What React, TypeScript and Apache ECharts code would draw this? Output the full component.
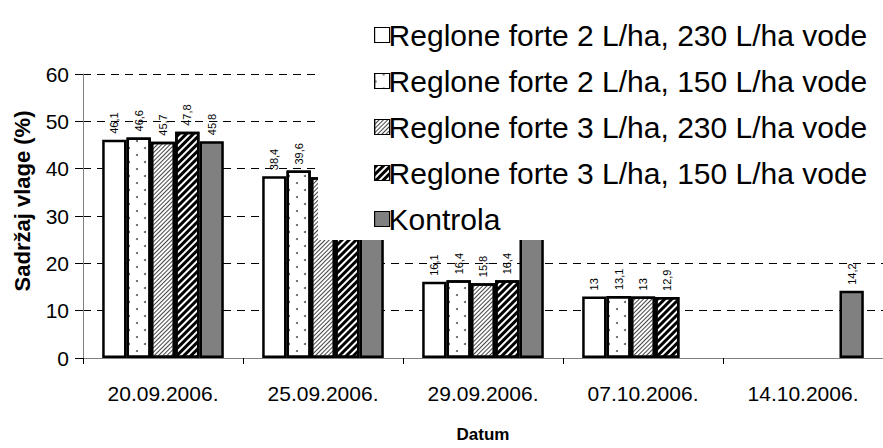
import React, { useEffect, useRef } from "react";
import * as echarts from "echarts";

const categories = ["20.09.2006.", "25.09.2006.", "29.09.2006.", "07.10.2006.", "14.10.2006."];
const seriesNames = [
  "Reglone forte 2 L/ha, 230 L/ha vode",
  "Reglone forte 2 L/ha, 150 L/ha vode",
  "Reglone forte 3 L/ha, 230 L/ha vode",
  "Reglone forte 3 L/ha, 150 L/ha vode",
  "Kontrola",
];
const r2l230 = [46.1, 38.4, 16.1, 13, null];
const r2l150 = [46.6, 39.6, 16.4, 13.1, null];
const r3l230 = [45.7, 38.2, 15.8, 13, null];
const r3l150 = [47.8, 38.0, 16.4, 12.9, null];
const kontrola = [45.8, 37.5, 31.0, null, 14.2];
const yTicks = { min: 0, max: 60, interval: 10 };

const FONT = "'Liberation Sans', Arial, sans-serif";

export default function App() {
  const ref = useRef<HTMLDivElement>(null);
  useEffect(() => {
    if (!ref.current) return;
    const chart = echarts.init(ref.current, null, { renderer: "svg" });
    const label = {
      show: true,
      position: "top",
      rotate: 90,
      align: "left",
      verticalAlign: "middle",
      distance: 6,
      fontSize: 11,
      fontFamily: FONT,
      color: "#000",
      formatter: (p: any) => String(p.value).replace(".", ","),
    };
    const border = { borderColor: "#000", borderWidth: 2.5 };
    const decals: any[] = [
      undefined,
      {
        symbol: "circle",
        symbolSize: 1,
        color: "#555",
        dashArrayX: [[2, 14], [0, 8, 2, 6]],
        dashArrayY: [2, 5],
      },
      {
        symbol: "rect",
        symbolSize: 1,
        color: "#444",
        dashArrayX: [1, 0],
        dashArrayY: [1, 2],
        rotation: -Math.PI / 4,
      },
      {
        symbol: "rect",
        symbolSize: 1,
        color: "#000",
        dashArrayX: [1, 0],
        dashArrayY: [2.2, 2],
        rotation: -Math.PI / 4,
      },
      undefined,
    ];
    const fills = ["#fff", "#fff", "#fff", "#fff", "#808080"];
    const datasets = [r2l230, r2l150, r3l230, r3l150, kontrola];
    chart.setOption({
      animation: false,
      textStyle: { fontFamily: FONT },
      grid: { left: 83, right: 0, top: 74, bottom: 87 },
      legend: {
        orient: "vertical",
        left: 369,
        top: 15,
        z: 20,
        itemWidth: 15,
        itemHeight: 15,
        itemGap: 16,
        icon: "rect",
        itemStyle: { borderWidth: 1.2 },
        textStyle: { fontSize: 30, color: "#000", fontFamily: FONT, padding: [0, 0, 0, -6] },
        data: seriesNames,
      },
      graphic: [
        {
          type: "rect",
          z: 10,
          shape: { x: 318, y: 0, width: 565, height: 240 },
          style: { fill: "#fff" },
        },
      ],
      xAxis: {
        type: "category",
        data: categories,
        axisLine: { lineStyle: { color: "#808080", width: 1 } },
        axisTick: { show: true, length: 6, lineStyle: { color: "#000" } },
        axisLabel: { fontSize: 21, color: "#000", margin: 25 },
        name: "Datum",
        nameLocation: "middle",
        nameGap: 68,
        nameTextStyle: { fontSize: 17, fontWeight: "bold", color: "#000" },
      },
      yAxis: {
        type: "value",
        min: yTicks.min,
        max: yTicks.max,
        interval: yTicks.interval,
        axisLine: { show: true, lineStyle: { color: "#808080", width: 1 } },
        axisTick: { show: true, length: 8, lineStyle: { color: "#000" } },
        axisLabel: { fontSize: 21, color: "#000", margin: 14 },
        splitLine: { lineStyle: { color: "#000", type: [8, 6], width: 1 } },
        name: "Sadržaj vlage (%)",
        nameLocation: "middle",
        nameGap: 50,
        nameTextStyle: { fontSize: 22, fontWeight: "bold", color: "#000", padding: [0, 0, 0, 30] },
      },
      series: datasets.map((d, i) => ({
        name: seriesNames[i],
        type: "bar",
        data: d,
        barGap: "0%",
        barCategoryGap: "24%",
        itemStyle: { color: fills[i], ...border, ...(decals[i] ? { decal: decals[i] } : {}) },
        label,
      })),
    });
    return () => chart.dispose();
  }, []);
  return (
    <div
      ref={ref}
      style={{ position: "absolute", left: 0, top: 0, width: 883, height: 448 }}
    />
  );
}
